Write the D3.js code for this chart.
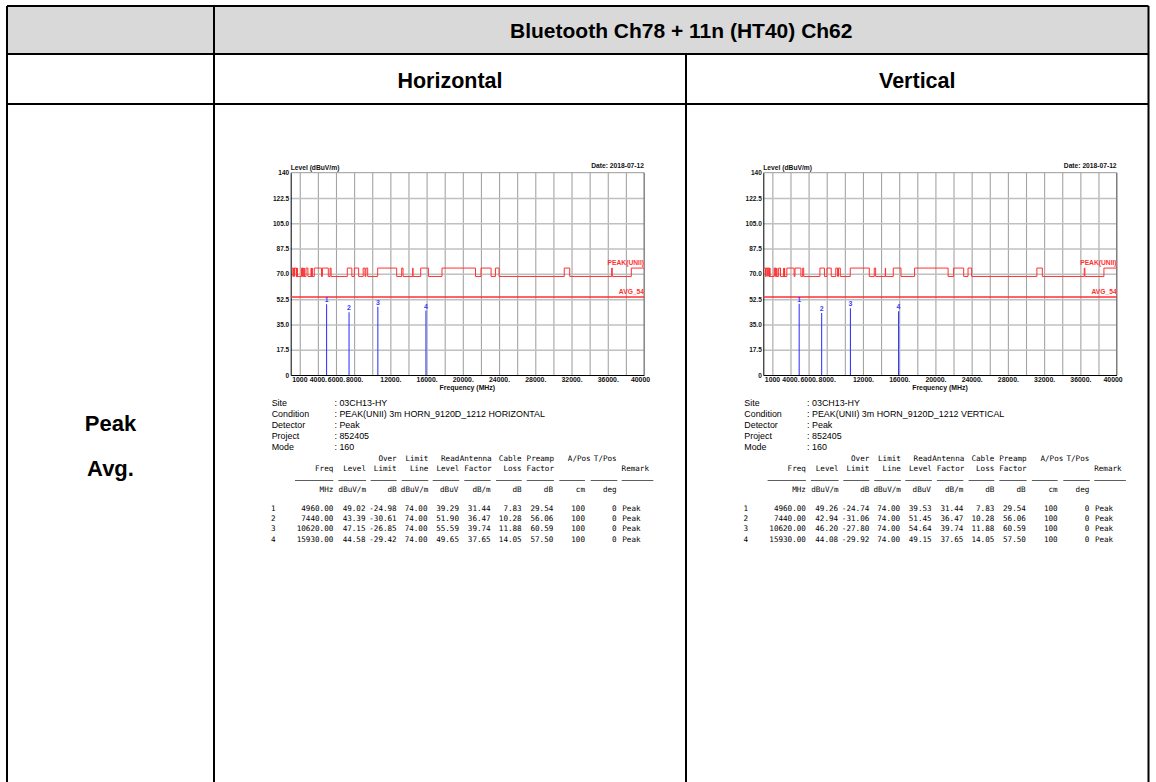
<!DOCTYPE html>
<html><head><meta charset="utf-8">
<script src="https://cdn.jsdelivr.net/npm/d3@7"></script>
<style>body{margin:0;background:#fff}svg{display:block}</style>
</head><body>
<script>
// ---------------- data ----------------
const tableTitle = "Bluetooth Ch78 + 11n (HT40) Ch62";
const polarizations = ["Horizontal", "Vertical"];
const rowLabels = ["Peak", "Avg."];

const levelTicks = [0, 17.5, 35, 52.5, 70, 87.5, 105, 122.5, 140];
const levelTickLabels = ["0", "17.5", "35.0", "52.5", "70.0", "87.5", "105.0", "122.5", "140"];
const freqGrid = [2000, 4000, 6000, 8000, 10000, 12000, 14000, 16000, 18000, 20000, 22000, 24000, 26000, 28000, 30000, 32000, 34000, 36000, 38000, 40000];
const freqTicks = [1000, 4000, 6000, 8000, 12000, 16000, 20000, 24000, 28000, 32000, 36000, 40000];
const freqTickLabels = ["1000", "4000.", "6000.", "8000.", "12000.", "16000.", "20000.", "24000.", "28000.", "32000.", "36000.", "40000"];

// peak limit line: 74 dBuV/m inside restricted bands, 68.2 elsewhere
const peakLimitHigh = 74;
const peakLimitLow = 68.2;
const avgLimit = 54;
const restrictedBands = [[1000, 1240], [1300, 1427], [1435, 1626.5], [1645.5, 1646.5], [1660, 1710], [1718.8, 1722.2],
  [2200, 2300], [2310, 2390], [2483.5, 2500], [2690, 2900], [3260, 3267], [3332, 3339], [3345.8, 3358], [3600, 4400],
  [4500, 5150], [5350, 5460], [7250, 7750], [8025, 8500], [9000, 9200], [9300, 9500], [10600, 12700], [13250, 13400],
  [14470, 14500], [15350, 16200], [17700, 21400], [22010, 23120], [23600, 24000], [31200, 31800], [36430, 36500], [38600, 40000]];

const markerIds = ["1", "2", "3", "4"];
const markerFreq = [4960, 7440, 10620, 15930];
const levelH = [49.02, 43.39, 47.15, 44.58];
const overH = [-24.98, -30.61, -26.85, -29.42];
const readH = [39.29, 51.90, 55.59, 49.65];
const levelV = [49.26, 42.94, 46.20, 44.08];
const overV = [-24.74, -31.06, -27.80, -29.92];
const readV = [39.53, 51.45, 54.64, 49.15];
const limitLine = [74.00, 74.00, 74.00, 74.00];
const antennaFactor = [31.44, 36.47, 39.74, 37.65];
const cableLoss = [7.83, 10.28, 11.88, 14.05];
const preampFactor = [29.54, 56.06, 60.59, 57.50];
const aPos = [100, 100, 100, 100];
const tPos = [0, 0, 0, 0];
const remarks = ["Peak", "Peak", "Peak", "Peak"];

const infoLabels = ["Site", "Condition", "Detector", "Project", "Mode"];
const infoValuesH = [": 03CH13-HY", ": PEAK(UNII) 3m HORN_9120D_1212 HORIZONTAL", ": Peak", ": 852405", ": 160"];
const infoValuesV = [": 03CH13-HY", ": PEAK(UNII) 3m HORN_9120D_1212 VERTICAL", ": Peak", ": 852405", ": 160"];
const dateText = "Date: 2018-07-12";

const colHead1 = ["", "", "Over", "Limit", "Read", "Antenna", "Cable", "Preamp", "A/Pos", "T/Pos", ""];
const colHead2 = ["Freq", "Level", "Limit", "Line", "Level", "Factor", "Loss", "Factor", "", "", "Remark"];
const colUnits = ["MHz", "dBuV/m", "dB", "dBuV/m", "dBuV", "dB/m", "dB", "dB", "cm", "deg", ""];

// ---------------- layout ----------------
const W = 1156, H = 782;
const svg = d3.select("body").append("svg").attr("width", W).attr("height", H);
const T = {left: 7, c1: 214, c2: 686, right: 1148.5, top: 6, r1: 54, r2: 104, bottom: 790};

svg.append("rect").attr("x", T.left).attr("y", T.top).attr("width", T.right - T.left).attr("height", T.r1 - T.top).attr("fill", "#d9d9d9");
const bl = svg.append("g").attr("stroke", "#000").attr("stroke-width", 2);
[[T.left, T.top, T.right, T.top], [T.left, T.r1, T.right, T.r1], [T.left, T.r2, T.right, T.r2],
 [T.left, T.top, T.left, T.bottom], [T.right, T.top, T.right, T.bottom], [T.c1, T.top, T.c1, T.bottom],
 [T.c2, T.r1, T.c2, T.bottom]].forEach(l => bl.append("line").attr("x1", l[0]).attr("y1", l[1]).attr("x2", l[2]).attr("y2", l[3]));

const hdrFont = "Liberation Sans, Arial, sans-serif";
svg.append("text").attr("x", (T.c1 + T.right) / 2).attr("y", 38).attr("text-anchor", "middle")
  .attr("font-family", hdrFont).attr("font-weight", "bold").attr("font-size", 21).text(tableTitle);
svg.selectAll("text.pol").data(polarizations).enter().append("text").attr("class", "pol")
  .attr("x", (d, i) => i === 0 ? (T.c1 + T.c2) / 2 : (T.c2 + T.right) / 2).attr("y", 88)
  .attr("text-anchor", "middle").attr("font-family", hdrFont).attr("font-weight", "bold").attr("font-size", 21.5).text(d => d);
svg.selectAll("text.rl").data(rowLabels).enter().append("text").attr("class", "rl")
  .attr("x", (T.left + T.c1) / 2).attr("y", (d, i) => 430.5 + i * 45.5)
  .attr("text-anchor", "middle").attr("font-family", hdrFont).attr("font-weight", "bold").attr("font-size", 22).text(d => d);

const P = {l: 290.7, r: 644, t: 172.7, b: 375};

function drawPanel(ox, lv, ov, rd, info) {
  const g = svg.append("g").attr("transform", `translate(${ox},0)`);
  const x = d3.scaleLinear().domain([1000, 40000]).range([P.l, P.r]);
  const y = d3.scaleLinear().domain([0, 140]).range([P.b, P.t]);
  const ph = P.b - P.t, pw = P.r - P.l;

  // grid
  g.append("g").attr("transform", `translate(0,${P.b})`)
    .call(d3.axisBottom(x).tickValues(freqGrid).tickSize(-ph).tickFormat(""))
    .call(s => { s.select(".domain").remove(); s.selectAll("line").attr("stroke", "#a4a4a4").attr("stroke-width", 1.1); });
  g.append("g").attr("transform", `translate(${P.l},0)`)
    .call(d3.axisLeft(y).tickValues(levelTicks.slice(1, -1)).tickSize(-pw).tickFormat(""))
    .call(s => { s.select(".domain").remove(); s.selectAll("line").attr("stroke", "#c0c0c0").attr("stroke-width", 1.5); });
  // frame
  g.append("line").attr("x1", P.l).attr("x2", P.r).attr("y1", P.t).attr("y2", P.t).attr("stroke", "#999");
  g.append("line").attr("x1", P.r).attr("x2", P.r).attr("y1", P.t).attr("y2", P.b).attr("stroke", "#777");

  // axes labels
  g.append("g").attr("transform", `translate(${P.l},0)`)
    .call(d3.axisLeft(y).tickValues(levelTicks).tickFormat((d, i) => levelTickLabels[i]).tickSize(0).tickPadding(1.5))
    .call(s => {
      s.select(".domain").attr("stroke", "#000");
      s.selectAll("text").attr("font-family", hdrFont).attr("font-weight", "bold").attr("font-size", 6.5).attr("fill", "#111");
    });
  g.append("g").attr("transform", `translate(0,${P.b})`)
    .call(d3.axisBottom(x).tickValues(freqTicks).tickFormat((d, i) => freqTickLabels[i]).tickSize(0).tickPadding(2))
    .call(s => {
      s.select(".domain").attr("stroke", "#000");
      s.selectAll("text").attr("font-family", hdrFont).attr("font-weight", "bold").attr("font-size", 6.9).attr("fill", "#111")
        .attr("text-anchor", (d, i) => i === 0 ? "start" : "middle")
        .attr("dx", (d, i) => i === 0 ? 1 : (i === freqTicks.length - 1 ? -4 : 0));
    });

  g.append("text").attr("x", P.l).attr("y", P.t - 3).attr("font-family", hdrFont).attr("font-weight", "bold")
    .attr("font-size", 6.7).attr("fill", "#111").text("Level (dBuV/m)");
  g.append("text").attr("x", P.r).attr("y", P.t - 4.5).attr("text-anchor", "end").attr("font-family", hdrFont)
    .attr("font-weight", "bold").attr("font-size", 6.7).attr("fill", "#111").text(dateText);
  g.append("text").attr("x", (P.l + P.r) / 2).attr("y", P.b + 15).attr("text-anchor", "middle").attr("font-family", hdrFont)
    .attr("font-weight", "bold").attr("font-size", 6.9).attr("fill", "#111").text("Frequency (MHz)");

  // limit lines
  const pts = [];
  restrictedBands.forEach(b => { pts.push([b[0], peakLimitHigh]); if (b[1] < 40000) pts.push([b[1], peakLimitLow]); });
  pts.push([40000, restrictedBands[restrictedBands.length - 1][1] >= 40000 ? peakLimitHigh : peakLimitLow]);
  const line = d3.line().x(d => x(d[0])).y(d => y(d[1])).curve(d3.curveStepAfter);
  g.append("path").attr("d", line(pts)).attr("fill", "none").attr("stroke", "#ff3030").attr("stroke-width", 1);
  g.append("line").attr("x1", P.l).attr("x2", P.r).attr("y1", y(avgLimit)).attr("y2", y(avgLimit))
    .attr("stroke", "#ff3030").attr("stroke-width", 1.5);
  g.append("text").attr("x", P.r).attr("y", y(peakLimitHigh) - 3).attr("text-anchor", "end").attr("font-family", hdrFont)
    .attr("font-weight", "bold").attr("font-size", 6.7).attr("fill", "#ff3030").text("PEAK(UNII)");
  g.append("text").attr("x", P.r).attr("y", y(avgLimit) - 2.5).attr("text-anchor", "end").attr("font-family", hdrFont)
    .attr("font-weight", "bold").attr("font-size", 6.7).attr("fill", "#ff3030").text("AVG_54");

  // markers
  g.selectAll("line.mk").data(markerFreq).enter().append("line").attr("class", "mk")
    .attr("x1", d => x(d)).attr("x2", d => x(d)).attr("y1", y(0)).attr("y2", (d, i) => y(lv[i]))
    .attr("stroke", "#3a3aff").attr("stroke-width", 1.1);
  g.selectAll("text.mk").data(markerFreq).enter().append("text").attr("class", "mk")
    .attr("x", d => x(d)).attr("y", (d, i) => y(lv[i]) - 2).attr("text-anchor", "middle").attr("font-family", hdrFont)
    .attr("font-weight", "bold").attr("font-size", 6.9).attr("fill", "#3a3aff").text((d, i) => markerIds[i]);

  // info block
  const infoFont = "Liberation Sans, Arial, sans-serif";
  infoLabels.forEach((t, i) => {
    g.append("text").attr("x", 271.7).attr("y", 405.8 + i * 11.15).attr("font-family", infoFont).attr("font-size", 8.9).attr("fill", "#000").text(t);
    g.append("text").attr("x", 334.5).attr("y", 405.8 + i * 11.15).attr("font-family", infoFont).attr("font-size", 8.9).attr("fill", "#000").text(info[i]);
  });

  // table
  const mono = "DejaVu Sans Mono, Liberation Mono, monospace";
  const fs = 7.6;
  const headR = [333.3, 366, 396.7, 428.3, 459.3, 491.7, 521.7, 554, 590.7, 616.7, 649];
  const unitR = [333.3, 366, 396.7, 428.3, 458.3, 490.7, 521.7, 553, 585, 616.7, 649];
  const tt = (xx, yy, s, anchor) => g.append("text").attr("x", xx).attr("y", yy).attr("text-anchor", anchor || "end")
    .attr("font-family", mono).attr("font-size", fs).attr("fill", "#000").text(s);
  colHead1.forEach((s, i) => { if (s) tt(headR[i], 461, s); });
  colHead2.forEach((s, i) => { if (s) tt(headR[i], 471.2, s); });
  colUnits.forEach((s, i) => { if (s) tt(unitR[i], 491.8, s); });
  const ul = [[295, 333.3], [338.3, 366], [370.7, 396.7], [401.7, 428.3], [432.7, 459.3], [464.3, 490.7], [496, 521.7], [526.7, 554], [559.3, 585], [590.7, 617.3], [621.7, 653.3]];
  ul.forEach(u => g.append("line").attr("x1", u[0]).attr("x2", u[1]).attr("y1", 480.5).attr("y2", 480.5).attr("stroke", "#333").attr("stroke-width", 0.8));
  markerFreq.forEach((f, i) => {
    const yy = 511 + i * 10.2;
    tt(275.5, yy, markerIds[i]);
    tt(333.3, yy, f.toFixed(2));
    tt(365.5, yy, lv[i].toFixed(2));
    tt(396.7, yy, ov[i].toFixed(2));
    tt(427.5, yy, limitLine[i].toFixed(2));
    tt(459, yy, rd[i].toFixed(2));
    tt(490.7, yy, antennaFactor[i].toFixed(2));
    tt(521.7, yy, cableLoss[i].toFixed(2));
    tt(553.3, yy, preampFactor[i].toFixed(2));
    tt(585, yy, String(aPos[i]));
    tt(616.7, yy, String(tPos[i]));
    tt(622.3, yy, remarks[i], "start");
  });
}

drawPanel(0, levelH, overH, readH, infoValuesH);
drawPanel(472.6, levelV, overV, readV, infoValuesV);
</script>
</body></html>
